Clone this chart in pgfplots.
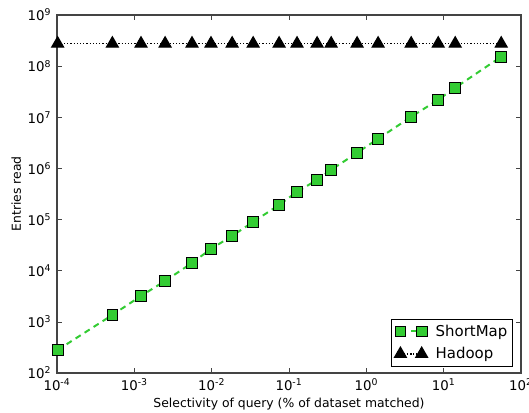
\documentclass[border=0pt]{standalone}
\usepackage{fontspec}
\setmainfont{DejaVu Sans}
\usepackage{pgfplots}
\pgfplotsset{compat=1.18}
\definecolor{smgreen}{RGB}{51,204,51}
\definecolor{framegray}{RGB}{68,68,68}
\begin{document}
\fontsize{9.3}{11}\selectfont
\begin{tikzpicture}
\begin{axis}[
  name=ax,
  scale only axis,
  width=348pt, height=268.5pt,
  xmode=log, ymode=log,
  log basis x=10, log basis y=10,
  xmin=1e-4, xmax=1e2, ymin=1e2, ymax=1e9,
  axis line style={framegray, line width=0.9pt},
  tick style={framegray, line width=0.5pt},
  tick align=inside,
  major tick length=3.5pt, minor tick length=2pt,
  xtick={1e-4,1e-3,1e-2,1e-1,1,10,100},
  ytick={1e2,1e3,1e4,1e5,1e6,1e7,1e8,1e9},
  xticklabel={10\textsuperscript{\pgfmathprintnumber[assume math mode=true]{\tick}}},
  yticklabel={10\textsuperscript{\pgfmathprintnumber[assume math mode=true]{\tick}}},
  ticklabel style={font=\fontsize{10}{12}\selectfont},
  xticklabel style={yshift=-1pt},
  yticklabel style={xshift=-1pt},
  xlabel={Selectivity of query (\% of dataset matched)},
  ylabel={Entries read},
  xlabel style={yshift=1pt},
  ylabel style={yshift=-1.5pt},
  legend style={at={(rel axis cs:1,0)}, anchor=south east, xshift=-6pt, yshift=5pt,
    draw=black, line width=0.6pt, inner sep=2pt, row sep=3pt,
    font=\fontsize{11.2}{13}\selectfont},
  legend cell align=left,
  legend image code/.code={\draw[mark repeat=2,mark phase=1,#1] plot coordinates {(0cm,0cm) (0.28cm,0cm) (0.56cm,0cm)};},
]
\addplot[smgreen, line width=1.5pt, dash pattern=on 4.5pt off 3.5pt,
  mark=square*, mark size=4pt, mark options={solid, fill=smgreen, draw=black, line width=0.7pt}]
  coordinates {
  (1.02e-4,282) (5.2e-4,1365) (1.22e-3,3215) (2.5e-3,6310) (5.57e-3,14200)
  (9.8e-3,26700) (0.0184,48000) (0.0344,90000) (0.0745,194000) (0.127,348000)
  (0.231,598000) (0.351,940000) (0.76,2.02e6) (1.42,3.8e6) (3.8,1.02e7)
  (8.5,2.2e7) (14.1,3.78e7) (55.5,1.53e8)
  };
\addlegendentry{\hspace*{4pt}ShortMap}
\addplot[black, line width=0.8pt, dash pattern=on 0.8pt off 1.6pt,
  mark=triangle*, mark size=5.2pt, mark options={solid, fill=black}]
  coordinates {
  (1.02e-4,2.75e8) (5.2e-4,2.75e8) (1.22e-3,2.75e8) (2.5e-3,2.75e8) (5.57e-3,2.75e8)
  (9.8e-3,2.75e8) (0.0184,2.75e8) (0.0344,2.75e8) (0.0745,2.75e8) (0.127,2.75e8)
  (0.231,2.75e8) (0.351,2.75e8) (0.76,2.75e8) (1.42,2.75e8) (3.8,2.75e8)
  (8.5,2.75e8) (14.1,2.75e8) (55.5,2.75e8)
  };
\addlegendentry{\hspace*{4pt}Hadoop}
\end{axis}
\pgfresetboundingbox
\path[use as bounding box] ([shift={(-42.75pt,-29.25pt)}]ax.south west) rectangle ([shift={(6pt,11.25pt)}]ax.north east);
\end{tikzpicture}
\end{document}
